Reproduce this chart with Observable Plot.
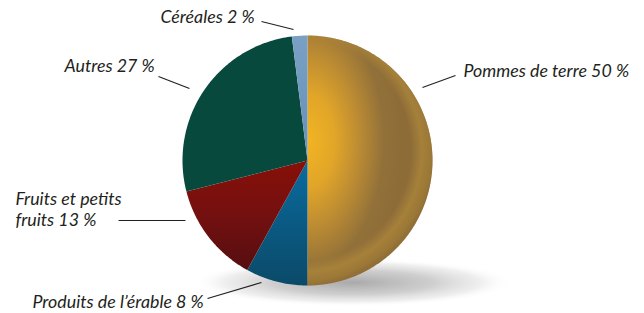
<!DOCTYPE html>
<html>
<head>
<meta charset="utf-8">
<script src="https://cdn.jsdelivr.net/npm/d3@7"></script>
<script src="https://cdn.jsdelivr.net/npm/@observablehq/plot@0.6"></script>
<style>
  html, body { margin: 0; padding: 0; background: #ffffff; }
  #chart { width: 644px; height: 313px; overflow: hidden; }
</style>
</head>
<body>
<div id="chart"></div>
<script>
// ---- data ----
const categories = ["Pommes de terre", "Produits de l’érable", "Fruits et petits fruits", "Autres", "Céréales"];
const values = [50, 8, 13, 27, 2];
const labelLines = [["Pommes de terre"], ["Produits de l’érable"], ["Fruits et petits", "fruits"], ["Autres"], ["Céréales"]];

// ---- layout / style ----
const W = 644, H = 313;
const center = [307, 160], radius = 125;
const labelX = [463, 32, 15, 64, 160];
const labelY = [76, 307, 225, 71, 22];
const leaderX1 = [455, 207, 118, 158, 261];
const leaderY1 = [75, 298, 220, 76, 21];
const leaderX2 = [422, 261, 185, 189, 293];
const leaderY2 = [87, 282, 220, 88, 29];
const gradIds = ["g-pommes", "g-erable", "g-fruits", "g-autres", "g-cereales"];

// ---- build slices with d3.pie ----
const arcs = d3.pie().sort(null).value(d => d)(values);
const slicePts = [];
arcs.forEach((a, i) => {
  const n = Math.max(4, Math.ceil((a.endAngle - a.startAngle) / (Math.PI / 180)));
  slicePts.push({k: i, x: center[0], y: center[1]});
  for (let j = 0; j <= n; j++) {
    const t = a.startAngle + (a.endAngle - a.startAngle) * j / n;
    slicePts.push({k: i, x: center[0] + radius * Math.sin(t), y: center[1] - radius * Math.cos(t)});
  }
  slicePts.push({k: i, x: center[0], y: center[1]});
});

// shadow ellipse
const shadowPts = d3.range(0, 361, 3).map(deg => {
  const t = deg * Math.PI / 180;
  return {x: 352 + 160 * Math.cos(t), y: 282 + 24 * Math.sin(t)};
});

const labels = categories.map((c, i) => ({
  text: labelLines[i].slice(0, -1).concat([labelLines[i][labelLines[i].length - 1] + " " + values[i] + " %"]).join("\n"),
  x: labelX[i], y: labelY[i]
}));
const leaders = categories.map((c, i) => ({x1: leaderX1[i], y1: leaderY1[i], x2: leaderX2[i], y2: leaderY2[i]}));

const marks = [
  Plot.line(shadowPts, {x: "x", y: "y", fill: "url(#g-shadow)", stroke: "none", curve: "linear-closed"})
];
arcs.forEach((a, i) => {
  marks.push(Plot.line(slicePts.filter(p => p.k === i), {x: "x", y: "y", fill: `url(#${gradIds[i]})`, stroke: "none"}));
});
// rim highlight on potatoes slice
marks.push(Plot.line(slicePts.filter(p => p.k === 0), {x: "x", y: "y", fill: "url(#g-rim)", stroke: "none"}));
marks.push(Plot.link(leaders, {x1: "x1", y1: "y1", x2: "x2", y2: "y2", stroke: "#231f20", strokeWidth: 1.2}));
marks.push(Plot.text(labels, {
  x: "x", y: "y", text: "text", textAnchor: "start", lineAnchor: "bottom", lineHeight: 1.13,
  fontFamily: "Lato", fontStyle: "italic", fontSize: 17.8, fill: "#231f20"
}));

const svg = Plot.plot({
  width: W, height: H, margin: 0, axis: null,
  x: {domain: [0, W], range: [0, W]},
  y: {domain: [0, H], range: [0, H]},
  style: {background: "#ffffff", overflow: "visible"},
  marks
});

// ---- gradients ----
const defs = d3.select(svg).insert("defs", ":first-child");
function lin(id, stops, x1 = 0, y1 = 0, x2 = 0, y2 = 1) {
  const g = defs.append("linearGradient").attr("id", id)
    .attr("x1", x1).attr("y1", y1).attr("x2", x2).attr("y2", y2);
  stops.forEach(([o, c, op = 1]) => g.append("stop").attr("offset", o).attr("stop-color", c).attr("stop-opacity", op));
}
function rad(id, attrs, stops) {
  const g = defs.append("radialGradient").attr("id", id);
  Object.entries(attrs).forEach(([k, v]) => g.attr(k, v));
  stops.forEach(([o, c, op = 1]) => g.append("stop").attr("offset", o).attr("stop-color", c).attr("stop-opacity", op));
}
rad("g-pommes", {gradientUnits: "userSpaceOnUse", cx: 307, cy: 140, r: 100,
  gradientTransform: "translate(307,140) scale(0.95,1.6) translate(-307,-140)"},
  [[0, "#f2b422"], [0.28, "#e2a628"], [0.55, "#bb8b33"], [0.8, "#927139"], [1, "#8d6c38"]]);
rad("g-rim", {gradientUnits: "userSpaceOnUse", cx: 300, cy: 150, r: 135},
  [[0, "#b08a3a", 0], [0.82, "#b08a3a", 0], [0.9, "#ad873a", 0.75], [0.97, "#a57f37", 0.6], [1, "#9a7535", 0.3]]);
lin("g-erable", [[0, "#0b6c9e"], [0.5, "#0a5a84"], [1, "#0b4a68"]]);
lin("g-fruits", [[0, "#871008"], [0.5, "#741010"], [1, "#560e10"]]);
lin("g-autres", [[0, "#07493d"], [1, "#07493c"]], 0, 0, 1, 0);
lin("g-cereales", [[0, "#7aa0c4"], [1, "#6690b8"]]);
rad("g-shadow", {cx: 0.5, cy: 0.5, r: 0.5},
  [[0, "#a0a0a0", 0.9], [0.5, "#bebebe", 0.75], [0.8, "#dadada", 0.45], [1, "#ffffff", 0]]);

document.getElementById("chart").appendChild(svg);
</script>
</body>
</html>
